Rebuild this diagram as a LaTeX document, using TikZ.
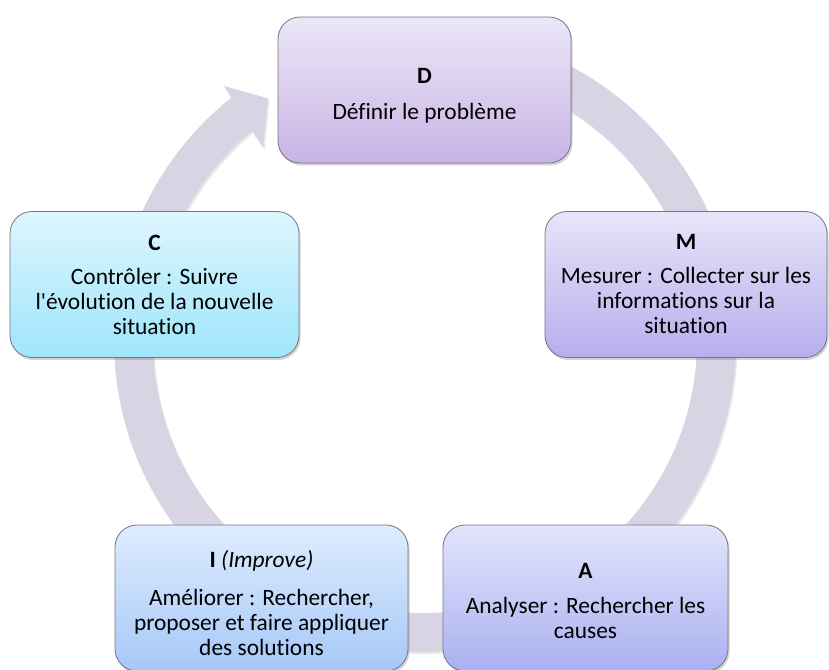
\documentclass[tikz,border=0pt]{standalone}
\usepackage{fontspec}
\setmainfont{Carlito}[Ligatures=NoCommon]
\usetikzlibrary{shadows}

\definecolor{ringfill}{RGB}{216,212,227}
\definecolor{boxline}{RGB}{118,118,128}
\definecolor{dTop}{RGB}{236,231,247}
\definecolor{dBot}{RGB}{201,180,229}
\definecolor{mTop}{RGB}{231,229,249}
\definecolor{mBot}{RGB}{183,174,236}
\definecolor{aTop}{RGB}{226,229,251}
\definecolor{aBot}{RGB}{170,176,241}
\definecolor{iTop}{RGB}{222,236,254}
\definecolor{iBot}{RGB}{166,200,248}
\definecolor{cTop}{RGB}{222,245,254}
\definecolor{cBot}{RGB}{158,230,251}

% strut that lowers a text block inside its box
\newcommand{\toppad}[1]{\rule{0pt}{#1}}

\begin{document}
\begin{tikzpicture}[x=1pt,y=1pt,
  stagebox/.style={draw=boxline, line width=0.8pt, rounded corners=22pt,
    minimum height=146pt, inner sep=0pt, align=center, text=black,
    font=\fontsize{23.4}{25}\selectfont,
    drop shadow={opacity=0.35, shadow xshift=1.5pt, shadow yshift=-2.5pt}},
  ringstyle/.style={fill=ringfill,
    drop shadow={opacity=0.18, shadow xshift=1.5pt, shadow yshift=-2pt}}]

\useasboundingbox (0,0) rectangle (829,669);

% circular band running behind the five stages, with its head before D
\begin{scope}[shift={(425,328)}]
  \fill[ringstyle]
    (129.44:272pt) arc[start angle=129.44, end angle=460, radius=272pt]
    -- (460:311pt) arc[start angle=460, end angle=128.52, radius=311pt]
    -- (128.25:324.7pt) -- (122.9:289pt) -- (130:252pt) -- cycle;
\end{scope}

% the five DMAIC stages
\node[stagebox, top color=dTop, bottom color=dBot, minimum width=293pt]
  (D) at (424.5,579) {\toppad{26pt}\textbf{D}\\[11pt]Définir le problème};
\node[stagebox, top color=mTop, bottom color=mBot, minimum width=282pt]
  (M) at (686,384.5) {\textbf{M}\\[9pt]Mesurer : Collecter sur les\\informations sur la\\situation};
\node[stagebox, top color=aTop, bottom color=aBot, minimum width=285pt]
  (A) at (585.5,71) {\toppad{22pt}\textbf{A}\\[10pt]Analyser : Rechercher les\\causes};
\node[stagebox, top color=iTop, bottom color=iBot, minimum width=293pt]
  (I) at (261.5,71) {\toppad{27pt}\textbf{I} \textit{(Improve)}\\[13pt]Améliorer : Rechercher,\\proposer et faire appliquer\\des solutions};
\node[stagebox, top color=cTop, bottom color=cBot, minimum width=289pt]
  (C) at (154.5,384.5) {\textbf{C}\\[9pt]Contrôler : Suivre\\l\textquotesingle évolution de la nouvelle\\situation};

\end{tikzpicture}
\end{document}
